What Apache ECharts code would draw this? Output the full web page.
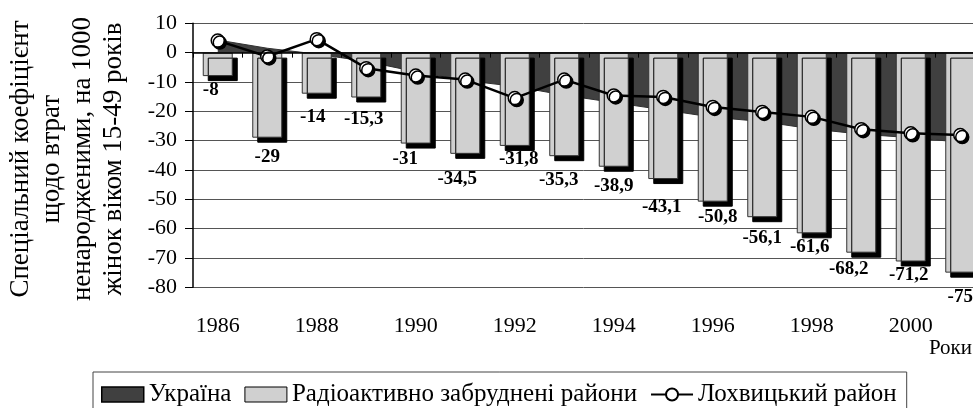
<!DOCTYPE html>
<html><head><meta charset="utf-8">
<script src="https://cdn.jsdelivr.net/npm/echarts@6/dist/echarts.min.js"></script>
<style>html,body{margin:0;padding:0;background:#fff}#c{width:973px;height:408px}</style>
</head><body><div id="c"></div>
<script>
const years = ['1986','1987','1988','1989','1990','1991','1992','1993','1994','1995','1996','1997','1998','1999','2000','2001'];
const ukraine = [4.3, 1.5, -0.5, -3, -6.5, -9.5, -11.5, -14.5, -17, -19.5, -22, -23.5, -26, -27.8, -29, -30.5];
const radioactive = [-8, -29, -14, -15.3, -31, -34.5, -31.8, -35.3, -38.9, -43.1, -50.8, -56.1, -61.6, -68.2, -71.2, -75];
const lokhvytskyi = [4.1, -1.3, 4.6, -5.3, -7.8, -9.2, -15.5, -9.2, -14.6, -15.1, -18.5, -20.2, -21.9, -26.1, -27.5, -28.1];
const seriesNames = ['Україна', 'Радіоактивно забруднені райони', 'Лохвицький район'];
const yAxisTitle = 'Спеціальний коефіцієнт\nщодо втрат\nненародженими, на 1000\nжінок віком 15-49 років';
const xAxisTitle = 'Роки';
// label nudges (dx, distance below bar end) - styling only
const labelNudge = [[-7,14],[0,20],[-4,24],[-2.5,22],[-10.5,16.5],[-8,26],[4,14],[-5.5,24],[0,20],[-1.5,29],[5,16],[0,21],[-2,14],[-12.5,17],[-2,14],[0,25]];

const FONT = 'Liberation Serif, Times New Roman, serif';
const chart = echarts.init(document.getElementById('c'), null, {renderer:'canvas'});
chart.setOption({
  animation: false,
  backgroundColor: '#fff',
  grid: {left: 193, right: -12, top: 23.3, bottom: 120.7, outerBoundsMode: 'none', containLabel: false},
  xAxis: [{
    type: 'category', data: years, boundaryGap: true, position: 'bottom',
    axisLine: {show: false, onZero: false},
    axisTick: {show: false},
    axisLabel: {interval: 1, margin: 28, fontFamily: FONT, fontSize: 22, color: '#000'},
    splitLine: {show: false}
  }, {
    type: 'category', data: years, boundaryGap: true, position: 'bottom', z: 5,
    axisLine: {show: true, onZero: true, lineStyle: {color: '#000', width: 1.5}},
    axisTick: {show: true, inside: false, length: 5, lineStyle: {color: '#000'}},
    axisLabel: {show: false},
    splitLine: {show: false}
  }],
  yAxis: {
    type: 'value', min: -80, max: 10, interval: 10,
    axisLine: {show: true, lineStyle: {color: '#000', width: 1.5}},
    axisTick: {show: true, length: 8, lineStyle: {color: '#000'}},
    axisLabel: {margin: 16, fontFamily: FONT, fontSize: 22, color: '#000'},
    splitLine: {show: true, lineStyle: {color: '#555', width: 1}}
  },
  legend: {
    left: 93, top: 372,
    padding: [10, 10, 12, 8],
    itemGap: 13, itemWidth: 42, itemHeight: 15,
    borderColor: '#444', borderWidth: 1,
    textStyle: {fontFamily: FONT, fontSize: 25, color: '#000'},
    data: [
      {name: seriesNames[0], icon: 'rect', itemStyle: {color: '#404040', borderColor: '#000', borderWidth: 1.5}},
      {name: seriesNames[1], icon: 'rect', itemStyle: {color: '#d0d0d0', borderColor: '#000', borderWidth: 1}},
      {name: seriesNames[2]}
    ]
  },
  graphic: [
    {type: 'text', x: 67, y: 159, rotation: Math.PI/2,
     style: {text: yAxisTitle, fontFamily: FONT, fontSize: 27, lineHeight: 31, align: 'center', verticalAlign: 'middle', fill: '#000'}},
    {type: 'text', x: 972, y: 348,
     style: {text: xAxisTitle, fontFamily: FONT, fontSize: 21, align: 'right', verticalAlign: 'middle', fill: '#000'}}
  ],
  series: [
    {
      name: seriesNames[0], type: 'line', data: ukraine, symbol: 'none', xAxisIndex: 0,
      lineStyle: {color: '#303030', width: 1},
      areaStyle: {color: '#404040', opacity: 1},
      itemStyle: {color: '#404040'},
      z: 1
    },
    {
      name: seriesNames[1], type: 'bar', barWidth: 30, xAxisIndex: 0,
      data: radioactive.map((v, i) => ({value: v, label: {offset: [labelNudge[i][0], labelNudge[i][1] - 10]}})),
      itemStyle: {color: '#d0d0d0', borderColor: '#333', borderWidth: 1,
                  shadowColor: '#000', shadowBlur: 0, shadowOffsetX: 5, shadowOffsetY: 5},
      label: {show: true, position: 'bottom', distance: 0, fontFamily: FONT, fontSize: 19, fontWeight: 'bold', color: '#000',
              formatter: p => String(p.value).replace('.', ',')},
      z: 2
    },
    {
      name: seriesNames[2], type: 'line', data: lokhvytskyi, xAxisIndex: 0,
      symbol: 'circle', symbolSize: 13,
      lineStyle: {color: '#000', width: 2.5},
      itemStyle: {color: '#fff', borderColor: '#000', borderWidth: 1.5,
                  shadowColor: '#000', shadowBlur: 0, shadowOffsetX: 2, shadowOffsetY: 2},
      z: 3
    }
  ]
});
</script></body></html>
